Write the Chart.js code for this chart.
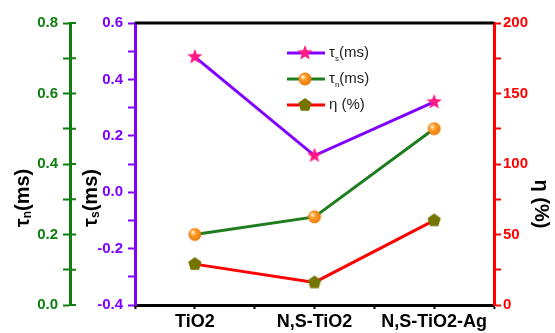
<!DOCTYPE html>
<html>
<head>
<meta charset="utf-8">
<script src="https://cdn.jsdelivr.net/npm/chart.js@4"></script>
<style>
  html, body { margin: 0; padding: 0; background: #fff; }
  #wrap { width: 555px; height: 333px; }
</style>
</head>
<body>
<div id="wrap"><canvas id="chartTiempos"></canvas></div>
<script>
// datos
const categorias = ['TiO2', 'N,S-TiO2', 'N,S-TiO2-Ag'];
const tauS = [0.48, 0.13, 0.32];       // ms, eje morado
const tauN = [0.20, 0.25, 0.50];       // ms, eje verde
const eta = [29, 16, 60];              // %, eje rojo

const verde = '#0f7d0f';
const morado = '#8000ff';
const rojo = '#ff0000';
const fuente = "'Liberation Sans', Arial, sans-serif";

// marcadores dibujados en canvas pequenos
const crearMarcador = (dibujar) => {
    const c = document.createElement('canvas');
    c.width = 18;
    c.height = 18;
    const g = c.getContext('2d');
    g.translate(9, 9);
    dibujar(g);
    return c;
};

const estrella = crearMarcador(g => {
    g.beginPath();
    for (let i = 0; i < 10; i++) {
        const r = i % 2 === 0 ? 8 : 3.4;
        const a = -Math.PI / 2 + i * Math.PI / 5;
        g.lineTo(r * Math.cos(a), r * Math.sin(a));
    }
    g.closePath();
    g.fillStyle = '#ff1a85';
    g.fill();
});

const esfera = crearMarcador(g => {
    const grad = g.createRadialGradient(-2.5, -2.5, 0.5, 0, 0, 7);
    grad.addColorStop(0, '#fff4dc');
    grad.addColorStop(0.35, '#ffa030');
    grad.addColorStop(1, '#e67300');
    g.beginPath();
    g.arc(0, 0, 6.5, 0, Math.PI * 2);
    g.fillStyle = grad;
    g.fill();
});

const pentagono = crearMarcador(g => {
    g.beginPath();
    for (let i = 0; i < 5; i++) {
        const a = -Math.PI / 2 + i * 2 * Math.PI / 5;
        g.lineTo(7 * Math.cos(a), 7 * Math.sin(a));
    }
    g.closePath();
    g.fillStyle = '#747400';
    g.fill();
});

const puntos = (valores) => valores.map((v, i) => ({ x: i, y: v }));

// titulos de ejes con subindice
const textoSub = (g, partes, tam, tamSub) => {
    let ancho = 0;
    partes.forEach(p => {
        g.font = `bold ${p.sub ? tamSub : tam}px ${fuente}`;
        ancho += g.measureText(p.t).width;
    });
    let x = -ancho / 2;
    partes.forEach(p => {
        g.font = `bold ${p.sub ? tamSub : tam}px ${fuente}`;
        g.fillText(p.t, x, p.sub ? 5 : 0);
        x += g.measureText(p.t).width;
    });
};

const pluginExtras = {
    id: 'extras',
    afterDraw(chart) {
        const g = chart.ctx;
        const area = chart.chartArea;

        // borde superior
        g.save();
        g.strokeStyle = '#000';
        g.lineWidth = 3;
        g.beginPath();
        g.moveTo(area.left, area.top);
        g.lineTo(area.right, area.top);
        g.stroke();

        // marcas hacia dentro del eje verde
        const ejeN = chart.scales.yN;
        g.strokeStyle = verde;
        g.lineWidth = 2;
        ejeN.ticks.forEach(t => {
            const y = ejeN.getPixelForValue(t.value);
            g.beginPath();
            g.moveTo(ejeN.right, y);
            g.lineTo(ejeN.right + 6, y);
            g.stroke();
        });

        // titulos
        g.fillStyle = '#000';
        g.textBaseline = 'middle';
        g.textAlign = 'left';
        g.save();
        g.translate(23, 198);
        g.rotate(-Math.PI / 2);
        textoSub(g, [{ t: 'τ' }, { t: 'n', sub: true }, { t: '(ms)' }], 20, 12);
        g.restore();
        g.save();
        g.translate(91, 198);
        g.rotate(-Math.PI / 2);
        textoSub(g, [{ t: 'τ' }, { t: 's', sub: true }, { t: '(ms)' }], 20, 12);
        g.restore();
        g.save();
        g.translate(541, 204);
        g.rotate(Math.PI / 2);
        textoSub(g, [{ t: 'η (%)' }], 20, 12);
        g.restore();

        // leyenda
        const filas = [
            { color: morado, marca: estrella, texto: [{ t: 'τ' }, { t: 's', sub: true }, { t: '(ms)' }] },
            { color: '#1e7d1e', marca: esfera, texto: [{ t: 'τ' }, { t: 'n', sub: true }, { t: '(ms)' }] },
            { color: rojo, marca: pentagono, texto: [{ t: 'η (%)' }] }
        ];
        filas.forEach((f, i) => {
            const y = 53 + i * 26;
            g.strokeStyle = f.color;
            g.lineWidth = 3;
            g.beginPath();
            g.moveTo(287, y);
            g.lineTo(325, y);
            g.stroke();
            g.drawImage(f.marca, 305 - 9, y - 9);
            let x = 329;
            g.fillStyle = '#222';
            f.texto.forEach(p => {
                g.font = `${p.sub ? 8 : 15}px ${fuente}`;
                g.fillText(p.t, x, p.sub ? y + 6 : y);
                x += g.measureText(p.t).width;
            });
        });
        g.restore();
    }
};

const ejeY = (color, min, max, paso, esMayor, posicion, peso, ancho) => ({
    type: 'linear',
    position: posicion,
    weight: peso,
    min: min,
    max: max,
    border: { color: color, width: 3 },
    grid: { drawOnChartArea: false, color: color, tickColor: color, tickLength: 7, tickWidth: 2 },
    ticks: {
        stepSize: paso,
        autoSkip: false,
        color: color,
        padding: posicion === 'right' ? 2 : 5,
        font: { family: fuente, size: 15, weight: 'bold' },
        callback: (v) => esMayor(v) ? (paso < 1 ? v.toFixed(1) : String(v)) : ''
    },
    afterFit: (escala) => { escala.width = ancho; }
});

const canvasTiempos = document.getElementById('chartTiempos');
const contextTiempos = canvasTiempos.getContext('2d');

const chartTiempos = new Chart(contextTiempos, {
    type: 'line',
    data: {
        datasets: [
            {
                label: 'τs(ms)',
                data: puntos(tauS),
                yAxisID: 'yS',
                borderColor: morado,
                borderWidth: 3,
                pointStyle: estrella,
                pointRadius: 8
            },
            {
                label: 'τn(ms)',
                data: puntos(tauN),
                yAxisID: 'yN',
                borderColor: '#1e7d1e',
                borderWidth: 3,
                pointStyle: esfera,
                pointRadius: 8
            },
            {
                label: 'η (%)',
                data: puntos(eta),
                yAxisID: 'yEta',
                borderColor: rojo,
                borderWidth: 3,
                pointStyle: pentagono,
                pointRadius: 8
            }
        ]
    },
    options: {
        responsive: true,
        maintainAspectRatio: false,
        animation: false,
        layout: { padding: { top: 23, left: 0, right: 0, bottom: 0 } },
        plugins: {
            legend: { display: false },
            title: { display: false },
            tooltip: { enabled: false }
        },
        scales: {
            x: {
                type: 'linear',
                min: -0.5,
                max: 2.5,
                border: { color: '#000', width: 3 },
                grid: { drawOnChartArea: false, tickColor: '#000', tickLength: 4, tickWidth: 2 },
                ticks: {
                    stepSize: 0.5,
                    autoSkip: false,
                    maxRotation: 0,
                    color: '#000',
                    padding: 2,
                    font: { family: fuente, size: 18, weight: 'bold' },
                    callback: (v) => Number.isInteger(v) ? categorias[v] : ''
                },
                afterFit: (escala) => { escala.height = 28; }
            },
            yN: ejeY(verde, 0, 0.8, 0.1, v => Math.round(v * 10) % 2 === 0, 'left', 2, 70),
            yS: ejeY(morado, -0.4, 0.6, 0.1, v => Math.abs(Math.round(v * 10)) % 2 === 0, 'left', 1, 65),
            yEta: ejeY(rojo, 0, 200, 25, v => v % 50 === 0, 'right', 1, 61)
        }
    },
    plugins: [pluginExtras]
});
</script>
</body>
</html>
